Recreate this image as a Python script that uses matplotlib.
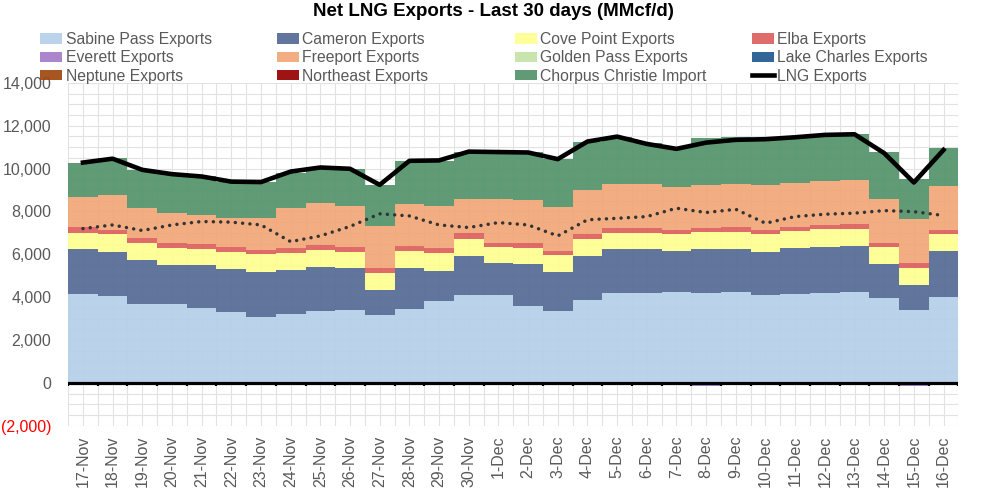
import matplotlib.pyplot as plt
import numpy as np
from matplotlib.patches import Patch
from matplotlib.lines import Line2D

plt.rcParams['font.family'] = ['Liberation Sans', 'DejaVu Sans']

# Data (MMcf/d)
days = ['17-Nov', '18-Nov', '19-Nov', '20-Nov', '21-Nov', '22-Nov', '23-Nov', '24-Nov',
        '25-Nov', '26-Nov', '27-Nov', '28-Nov', '29-Nov', '30-Nov', '1-Dec', '2-Dec',
        '3-Dec', '4-Dec', '5-Dec', '6-Dec', '7-Dec', '8-Dec', '9-Dec', '10-Dec',
        '11-Dec', '12-Dec', '13-Dec', '14-Dec', '15-Dec', '16-Dec']

sabine_pass = [4150, 4060, 3690, 3680, 3510, 3310, 3090, 3200, 3360, 3380,
               3170, 3440, 3840, 4110, 4080, 3610, 3360, 3870, 4190, 4190,
               4230, 4190, 4220, 4080, 4150, 4190, 4220, 3980, 3410, 4000]
cameron = [2090, 2070, 2060, 1830, 1970, 2010, 2100, 2070, 2070, 1970,
           1170, 1940, 1400, 1820, 1530, 1930, 1830, 2060, 2050, 2050,
           1930, 2060, 2030, 2050, 2160, 2170, 2170, 1570, 1160, 2160]
cove_point = [770, 810, 770, 790, 770, 780, 810, 810, 780, 780,
              780, 780, 810, 790, 750, 740, 780, 790, 770, 770,
              780, 780, 810, 820, 780, 810, 780, 780, 810, 790]
elba = [260, 200, 230, 220, 220, 230, 210, 200, 230, 230,
        230, 230, 230, 270, 190, 240, 200, 220, 240, 240,
        200, 190, 200, 190, 200, 200, 250, 190, 200, 190]
everett = [0, -30, 0, 0, 0, 0, 0, 0, 0, 0,
           0, 0, 0, 0, 0, 0, 0, 0, 0, 0,
           -80, -150, -60, 0, 0, 0, 0, 0, -120, -90]
freeport = [1420, 1620, 1430, 1400, 1370, 1350, 1500, 1900, 1950, 1900,
            1950, 1950, 1980, 1600, 2040, 2020, 2030, 2070, 2020, 2020,
            2020, 2020, 2030, 2070, 2030, 2060, 2050, 2070, 2070, 2050]
golden_pass = [0] * 30
lake_charles = [0] * 30
neptune = [0] * 30
northeast = [0] * 30
corpus_christi = [1590, 1720, 1760, 1820, 1790, 1710, 1660, 1610, 1660, 1730,
                  1940, 1990, 2080, 2180, 2180, 2210, 2240, 2220, 2220, 1930,
                  1840, 2180, 2160, 2160, 2140, 2140, 2130, 2180, 1850, 1760]
lng_exports = [10280, 10460, 9940, 9740, 9630, 9390, 9370, 9860, 10050, 9990,
               9240, 10360, 10380, 10790, 10770, 10750, 10440, 11260, 11490, 11150,
               10920, 11210, 11340, 11370, 11460, 11570, 11600, 10720, 9350, 10870]
dotted_series = [7200, 7370, 7110, 7370, 7530, 7500, 7370, 6590, 6860, 7300,
                 7890, 7790, 7370, 7250, 7480, 7370, 6860, 7610, 7680, 7760,
                 8150, 7950, 8100, 7450, 7760, 7870, 7920, 8040, 7990, 7810]

stack = [
    ("Sabine Pass Exports", sabine_pass, '#B4D0EA'),
    ("Cameron Exports", cameron, '#556A95'),
    ("Cove Point Exports", cove_point, '#FFFF90'),
    ("Elba Exports", elba, '#DD5E5E'),
    ("Freeport Exports", freeport, '#F2A677'),
    ("Golden Pass Exports", golden_pass, '#C3E3A5'),
    ("Lake Charles Exports", lake_charles, '#22598F'),
    ("Neptune Exports", neptune, '#A0460E'),
    ("Northeast Exports", northeast, '#960000'),
    ("Chorpus Christie Import", corpus_christi, '#52936A'),
]
everett_color = '#A57CC8'

n = len(days)
x = np.arange(n)

fig = plt.figure(figsize=(9.87, 4.9), dpi=100)
ax = fig.add_axes([0.069, 0.131, 0.902, 0.70])

# stacked bars, full width like the spreadsheet original
bottom = np.zeros(n)
for name, vals, color in stack:
    vals = np.array(vals, dtype=float)
    ax.bar(x, vals, width=1.0, bottom=bottom, color=color, alpha=0.92,
           linewidth=0, zorder=2)
    bottom += vals
ax.bar(x, everett, width=1.0, color=everett_color, alpha=0.92, linewidth=0, zorder=2)

ax.plot(x, lng_exports, color='black', lw=3.3, zorder=6)
ax.plot(x, dotted_series, color='#333333', lw=2.5, linestyle=(0, (0.01, 2.1)),
        dash_capstyle='round', zorder=5)

# axes, grid and ticks
ax.set_xlim(-0.5, n - 0.5)
ax.set_ylim(-2000, 14000)
yticks = np.arange(-2000, 14001, 2000)
ax.set_yticks(yticks)
ax.set_yticklabels(['({:,})'.format(-v) if v < 0 else '{:,}'.format(v) for v in yticks])
ax.set_yticks(np.arange(-2000, 14001, 500), minor=True)
ax.set_xticks(x)
ax.set_xticklabels(days, rotation=90)
ax.set_xticks(np.arange(n + 1) - 0.5, minor=True)
ax.grid(which='both', axis='both', color='#E2E2E2', lw=0.8, zorder=0)
ax.set_axisbelow(True)
ax.tick_params(axis='both', which='both', length=0)
ax.tick_params(axis='y', pad=12, labelsize=11.5, labelcolor='#595959')
ax.tick_params(axis='x', pad=7, labelsize=11.5, labelcolor='#595959')
for lbl in ax.get_yticklabels():
    if lbl.get_text().startswith('('):
        lbl.set_color('#FF0000')
for sp in ax.spines.values():
    sp.set_visible(False)

# zero line with small category tick marks
ax.axhline(0, color='black', lw=2.3, zorder=7)
ax.vlines(np.arange(n + 1) - 0.5, -140, 0, color='black', lw=1.6, zorder=7)

fig.text(0.5, 0.993, 'Net LNG Exports - Last 30 days (MMcf/d)', ha='center', va='top',
         fontsize=13.5, fontweight='bold')

# legend: four fixed-width columns, filled row by row
items = [(name, Patch(facecolor=color, alpha=0.92, linewidth=0)) for name, vals, color in stack]
items.insert(4, ("Everett Exports", Patch(facecolor=everett_color, alpha=0.92, linewidth=0)))
items.append(("LNG Exports", Line2D([], [], color='black', lw=3.3)))
col_x = [0.041, 0.281, 0.522, 0.762]
for c in range(4):
    col = items[c::4]
    fig.legend([h for _, h in col], [t for t, _ in col], loc='upper left',
               bbox_to_anchor=(col_x[c], 0.935), frameon=False, fontsize=11.3,
               labelcolor='#595959', handlelength=1.4, handleheight=0.65,
               handletextpad=0.2, labelspacing=0.22, borderpad=0, borderaxespad=0)

fig.savefig('out.png', dpi=100)
